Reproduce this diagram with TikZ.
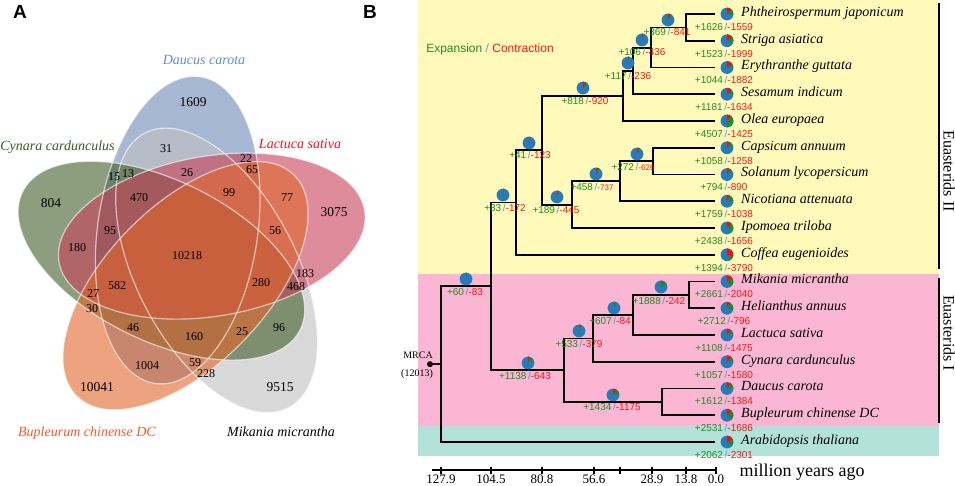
\documentclass[tikz,border=0pt]{standalone}
\usepackage{fontspec}
\setmainfont{Liberation Serif}
\setsansfont{Liberation Sans}
\definecolor{cyel}{RGB}{255,250,185}
\definecolor{cpink}{RGB}{250,182,210}
\definecolor{cteal}{RGB}{178,226,218}
\definecolor{pieblue}{RGB}{40,122,185}
\definecolor{piered}{RGB}{230,20,25}
\definecolor{piegreen}{RGB}{30,140,45}
\definecolor{tgreen}{RGB}{35,140,35}
\definecolor{tred}{RGB}{240,25,25}
\definecolor{tslash}{RGB}{110,140,200}
\definecolor{vblue}{RGB}{108,137,183}
\definecolor{vgreen}{RGB}{65,93,40}
\definecolor{vred}{RGB}{200,63,88}
\definecolor{vorange}{RGB}{225,102,42}
\definecolor{vgray}{RGB}{192,192,192}
\definecolor{lblue}{RGB}{100,140,195}
\definecolor{lgreen}{RGB}{50,95,40}
\definecolor{lred}{RGB}{235,20,30}
\definecolor{lorange}{RGB}{240,90,40}
\newcommand{\expn}[1]{\textcolor{tgreen}{#1}}
\newcommand{\contr}[1]{\textcolor{tred}{#1}}
\newcommand{\contrs}[1]{\textcolor{tred}{\fontsize{8}{9}\selectfont #1}}
\newcommand{\slsh}{\,\textcolor{tslash}{/}}
\newcommand{\piechart}[4]{%
  \node[pienode] (#1) at (#2) {};
  \fill[piered] (#1.center) -- ++(90:6.4pt) arc[start angle=90, delta angle=-#3, radius=6.4pt] -- cycle;
  \fill[piegreen] (#1.center) -- ++({90-#3}:6.4pt) arc[start angle={90-#3}, delta angle=-#4, radius=6.4pt] -- cycle;
}
\newcommand{\tipnode}[7]{%
  \coordinate (#1) at (715,#2);
  \piechart{#1p}{727,#2}{#6}{#7}
  \node[spname, anchor=mid west] (#1n) at (741,#2) {#3};
  \node[cnum] (#1c) at (724,{#2+12.7}) {\expn{#4}\slsh\contr{#5}};
}
\newcommand{\vellipse}[5]{% style, cx, cy, angle, semi-major
  \path[#1, rotate around={#4:(#2,#3)}] (#2,#3) ellipse [x radius=#5, y radius=80];
}
\begin{document}
\begin{tikzpicture}[x=1pt,y=-1pt,
  vnum/.style={font=\fontsize{12}{14}\selectfont, inner sep=0pt, text height=8pt, text depth=0pt},
  vbig/.style={font=\fontsize{13.5}{16}\selectfont, inner sep=0pt, text height=9pt, text depth=0pt},
  vlab/.style={font=\fontsize{14}{17}\selectfont\itshape, inner sep=0pt},
  cnum/.style={font=\sffamily\fontsize{10}{12}\selectfont, inner sep=0pt, text height=7.2pt, text depth=0pt},
  spname/.style={font=\fontsize{14}{16}\selectfont\itshape, inner sep=0pt},
  pienode/.style={circle, fill=pieblue, minimum size=12.8pt, inner sep=0pt},
  br/.style={line width=1.8pt, line join=miter},
  axisline/.style={line width=1.6pt},
  ticklab/.style={font=\fontsize{13}{15}\selectfont, inner sep=0pt, text height=9pt, text depth=0pt},
  panel/.style={font=\sffamily\bfseries\fontsize{19}{22}\selectfont, inner sep=0pt},
  vfill/.style={fill opacity=0.6},
  vline/.style={draw=white, draw opacity=0.6, line width=1.2pt},
  mrcadot/.style={circle, fill=black, minimum size=6pt, inner sep=0pt}
]
\useasboundingbox (0,0) rectangle (955,485);

% ---------------- Panel A: Venn ----------------
\node[panel] (labA) at (20,12) {A};
\vellipse{vfill, fill=vblue}{177.7}{230.1}{81.6}{155}
\vellipse{vfill, fill=vgray}{216.6}{270.4}{117.6}{155}
\vellipse{vfill, fill=vgreen}{161.4}{260.7}{153.6}{155}
\vellipse{vfill, fill=vred}{211.8}{236.1}{9.6}{155}
\vellipse{vfill, fill=vorange}{185.5}{285.7}{45.6}{155}
\vellipse{vline}{177.7}{230.1}{81.6}{155}
\vellipse{vline}{216.6}{270.4}{117.6}{155}
\vellipse{vline}{161.4}{260.7}{153.6}{155}
\vellipse{vline}{211.8}{236.1}{9.6}{155}
\vellipse{vline}{185.5}{285.7}{45.6}{155}

\node[vlab, text=lblue] (ldau) at (204,60) {Daucus carota};
\node[vlab, text=lgreen] (lcyn) at (57.5,147) {Cynara cardunculus};
\node[vlab, text=lred] (llac) at (300,144) {Lactuca sativa};
\node[vlab, text=lorange] (lbup) at (87,433) {Bupleurum chinense DC};
\node[vlab, text=black] (lmik) at (281,432) {Mikania micrantha};

\node[vbig] (u1) at (193,102) {1609};
\node[vbig] (u2) at (51,203) {804};
\node[vbig] (u3) at (334,212) {3075};
\node[vbig] (u4) at (97,387) {10041};
\node[vbig] (u5) at (280,387) {9515};
\node[vnum] (v1) at (166,148) {31};
\node[vnum] (v2) at (114,176) {15};
\node[vnum] (v3) at (128,173) {13};
\node[vnum] (v4) at (187,172) {26};
\node[vnum] (v5) at (246,158) {22};
\node[vnum] (v6) at (252,169) {65};
\node[vnum] (v7) at (139,197) {470};
\node[vnum] (v8) at (229,192) {99};
\node[vnum] (v9) at (287,197) {77};
\node[vnum] (v10) at (110,230) {95};
\node[vnum] (v11) at (275,230) {56};
\node[vnum] (v12) at (77,247) {180};
\node[vnum] (v13) at (187,255) {10218};
\node[vnum] (v14) at (117,285) {582};
\node[vnum] (v15) at (261,282) {280};
\node[vnum] (v16) at (305,273) {183};
\node[vnum] (v17) at (296,286) {468};
\node[vnum] (v18) at (93,293) {27};
\node[vnum] (v19) at (92,308) {30};
\node[vnum] (v20) at (133,327) {46};
\node[vnum] (v21) at (194,336) {160};
\node[vnum] (v22) at (242,331) {25};
\node[vnum] (v23) at (279,327) {96};
\node[vnum] (v24) at (147,365) {1004};
\node[vnum] (v25) at (195,362) {59};
\node[vnum] (v26) at (206,373) {228};

% ---------------- Panel B: tree ----------------
\node[panel] (labB) at (370,12) {B};
\fill[cyel] (418,0) rectangle (939,274);
\fill[cpink] (418,274) rectangle (939,426);
\fill[cteal] (418,426) rectangle (939,456);
\coordinate (b1a) at (939,3); \coordinate (b1b) at (939,269);
\coordinate (b2a) at (939,278); \coordinate (b2b) at (939,423);
\draw[line width=1.2pt] (b1a) -- (b1b);
\draw[line width=1.2pt] (b2a) -- (b2b);
\node[font=\fontsize{16}{18}\selectfont, rotate=-90, inner sep=0pt] (eu2) at (949,171) {Euasterids II};
\node[font=\fontsize{16}{18}\selectfont, rotate=-90, inner sep=0pt] (eu1) at (949,333) {Euasterids I};

\node[font=\sffamily\fontsize{12}{14}\selectfont, inner sep=0pt] (legend) at (490,49)
  {\textcolor{tgreen}{Expansion} \textcolor{tslash}{/} \textcolor{tred}{Contraction}};

% tips
\tipnode{t1}{14}{Phtheirospermum japonicum}{+1626}{-1559}{46.7}{48.7}
\tipnode{t2}{40.75}{Striga asiatica}{+1523}{-1999}{59.9}{45.6}
\tipnode{t3}{67.5}{Erythranthe guttata}{+1044}{-1882}{56.4}{31.3}
\tipnode{t4}{94.25}{Sesamum indicum}{+1181}{-1634}{49.0}{35.4}
\tipnode{t5}{121}{Olea europaea}{+4507}{-1425}{42.7}{135.1}
\tipnode{t6}{147.75}{Capsicum annuum}{+1058}{-1258}{37.7}{31.7}
\tipnode{t7}{174.5}{Solanum lycopersicum}{+794}{-890}{26.7}{23.8}
\tipnode{t8}{201.25}{Nicotiana attenuata}{+1759}{-1038}{31.1}{52.7}
\tipnode{t9}{228}{Ipomoea triloba}{+2438}{-1656}{49.6}{73.1}
\tipnode{t10}{254.75}{Coffea eugenioides}{+1394}{-3790}{113.6}{41.8}
\tipnode{t11}{281.5}{Mikania micrantha}{+2661}{-2040}{61.1}{79.7}
\tipnode{t12}{308.25}{Helianthus annuus}{+2712}{-796}{23.9}{81.3}
\tipnode{t13}{335}{Lactuca sativa}{+1108}{-1475}{44.2}{33.2}
\tipnode{t14}{361.75}{Cynara cardunculus}{+1057}{-1580}{47.3}{31.7}
\tipnode{t15}{388.5}{Daucus carota}{+1612}{-1384}{41.5}{48.3}
\tipnode{t16}{415.25}{Bupleurum chinense DC}{+2531}{-1686}{50.5}{75.8}
\tipnode{t17}{442}{Arabidopsis thaliana}{+2062}{-2301}{69.0}{61.8}

% internal nodes
\coordinate (nPS) at (686,27.4);
\coordinate (nPSE) at (651,47.7);
\coordinate (nPSES) at (633,71);
\coordinate (nLam) at (623,96);
\coordinate (nCS) at (653,161.1);
\coordinate (nCSN) at (620,181.2);
\coordinate (nSol) at (572,204.6);
\coordinate (nLS) at (542,150.3);
\coordinate (nEII) at (516,202.5);
\coordinate (nMH) at (689,294.9);
\coordinate (nMHL) at (633,315);
\coordinate (nAst) at (593,338.4);
\coordinate (nDB) at (662,401.9);
\coordinate (nEI) at (564,370.1);
\coordinate (nEu) at (491,286.3);
\coordinate (nRoot) at (441,364.2);
\node[mrcadot] (mrca) at (430,364.2) {};
\node[font=\fontsize{10}{12}\selectfont, inner sep=0pt] (mrcat) at (418,355) {MRCA};
\node[font=\fontsize{10}{12}\selectfont, inner sep=0pt] (mrcan) at (417,374) {(12013)};

\draw[br] (nPS) |- (t1);  \draw[br] (nPS) |- (t2);
\draw[br] (nPSE) |- (nPS); \draw[br] (nPSE) |- (t3);
\draw[br] (nPSES) |- (nPSE); \draw[br] (nPSES) |- (t4);
\draw[br] (nLam) |- (nPSES); \draw[br] (nLam) |- (t5);
\draw[br] (nCS) |- (t6); \draw[br] (nCS) |- (t7);
\draw[br] (nCSN) |- (nCS); \draw[br] (nCSN) |- (t8);
\draw[br] (nSol) |- (nCSN); \draw[br] (nSol) |- (t9);
\draw[br] (nLS) |- (nLam); \draw[br] (nLS) |- (nSol);
\draw[br] (nEII) |- (nLS); \draw[br] (nEII) |- (t10);
\draw[br] (nMH) |- (t11); \draw[br] (nMH) |- (t12);
\draw[br] (nMHL) |- (nMH); \draw[br] (nMHL) |- (t13);
\draw[br] (nAst) |- (nMHL); \draw[br] (nAst) |- (t14);
\draw[br] (nDB) |- (t15); \draw[br] (nDB) |- (t16);
\draw[br] (nEI) |- (nAst); \draw[br] (nEI) |- (nDB);
\draw[br] (nEu) |- (nEII); \draw[br] (nEu) |- (nEI);
\draw[br] (nRoot) |- (nEu); \draw[br] (nRoot) |- (t17);
\draw[br] (mrca) -- (nRoot);

% internal pies and labels
\piechart{p1}{668,20}{25.2}{11.1}
\piechart{p2}{642,40}{13.1}{3.2}
\piechart{p3}{628,63}{7.1}{3.5}
\piechart{p4}{583,88}{27.6}{24.5}
\piechart{p5}{637,154}{18.8}{8.2}
\piechart{p6}{596,174}{22.1}{13.7}
\piechart{p7}{557,197}{13.3}{5.7}
\piechart{p8}{529,143}{3.7}{1.2}
\piechart{p9}{503,195}{5.2}{2.5}
\piechart{p10}{466,279}{2.5}{1.8}
\piechart{p11}{661,287}{7.3}{56.6}
\piechart{p12}{614,308}{2.5}{18.2}
\piechart{p13}{579,331}{11.4}{16.0}
\piechart{p14}{528,363}{19.3}{34.1}
\piechart{p15}{613,395}{35.2}{43.0}

\node[cnum] (c1) at (667,32) {\expn{+369}\slsh\contr{-841}};
\node[cnum] (c2) at (642,52) {\expn{+106}\slsh\contr{-436}};
\node[cnum] (c3) at (628,76) {\expn{+117}\slsh\contr{-236}};
\node[cnum] (c4) at (585,101) {\expn{+818}\slsh\contr{-920}};
\node[cnum] (c5) at (633,167) {\expn{+272}\slsh\contrs{-626}};
\node[cnum] (c6) at (592,187) {\expn{+458}\slsh\contrs{-737}};
\node[cnum] (c7) at (556,210) {\expn{+189}\slsh\contr{-445}};
\node[cnum] (c8) at (530,155) {\expn{+41}\slsh\contr{-123}};
\node[cnum] (c9) at (505,208) {\expn{+83}\slsh\contr{-172}};
\node[cnum] (c10) at (465,292) {\expn{+60}\slsh\contr{-83}};
\node[cnum] (c11) at (659,301) {\expn{+1888}\slsh\contr{-242}};
\node[cnum] (c12) at (610,321) {\expn{+607}\slsh\contr{-84}};
\node[cnum] (c13) at (579,344) {\expn{+533}\slsh\contr{-379}};
\node[cnum] (c14) at (525,376) {\expn{+1138}\slsh\contr{-643}};
\node[cnum] (c15) at (612,407) {\expn{+1434}\slsh\contr{-1175}};

% axis
\coordinate (axL) at (432,470);
\coordinate (axR) at (717,470);
\draw[axisline] (axL) -- (axR);
\foreach \x/\lab [count=\i] in {441/127.9, 491/104.5, 542/80.8, 594/56.6, 652/28.9, 686/13.8, 716/0.0}{
  \coordinate (tka\i) at (\x,466.5);
  \coordinate (tkb\i) at (\x,473.5);
  \draw[axisline] (tka\i) -- (tkb\i);
  \node[ticklab] (tl\i) at (\x,479.2) {\lab};
}
\coordinate (tkxa) at (620,466.5);
\coordinate (tkxb) at (620,473.5);
\draw[axisline] (tkxa) -- (tkxb);
\node[font=\fontsize{18}{20}\selectfont, inner sep=0pt] (mya) at (802,472) {million years ago};
\end{tikzpicture}
\end{document}
